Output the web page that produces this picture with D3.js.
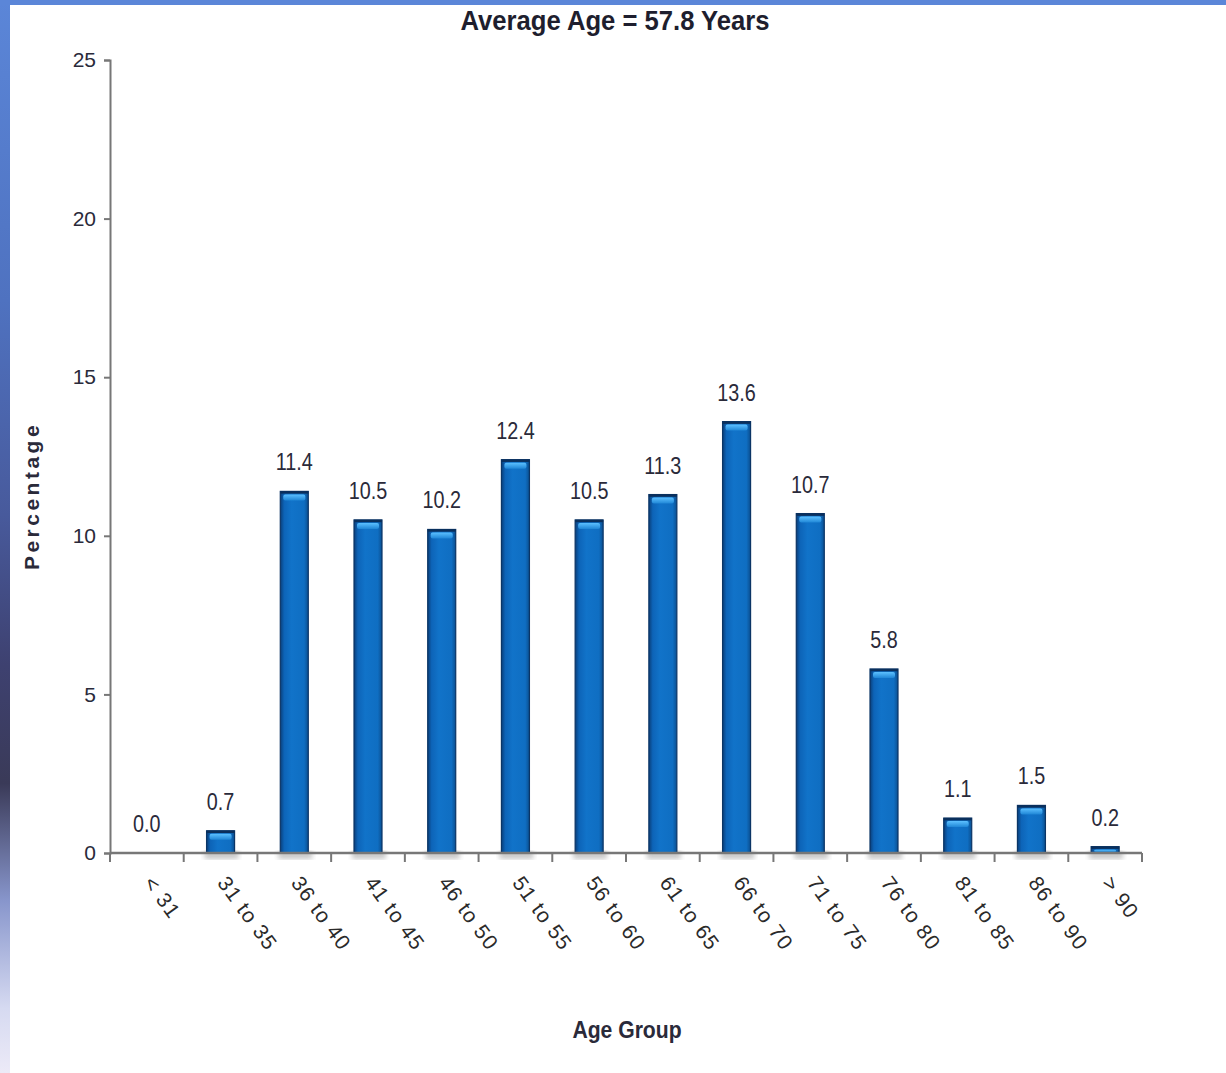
<!DOCTYPE html>
<html>
<head>
<meta charset="utf-8">
<script src="https://cdn.jsdelivr.net/npm/d3@7/dist/d3.min.js"></script>
<style>
  html, body { margin: 0; padding: 0; background: #fff; }
  svg { display: block; }
  text { font-family: "Liberation Sans Narrow", "Arial Narrow", "Liberation Sans", Arial, sans-serif; }
</style>
</head>
<body>
<svg id="chart" width="1226" height="1073"></svg>
<script>
// Age distribution of patients, percentage per age group
const ageGroups = ["< 31", "31 to 35", "36 to 40", "41 to 45", "46 to 50", "51 to 55", "56 to 60",
                   "61 to 65", "66 to 70", "71 to 75", "76 to 80", "81 to 85", "86 to 90", "> 90"];
const percentages = [0.0, 0.7, 11.4, 10.5, 10.2, 12.4, 10.5, 11.3, 13.6, 10.7, 5.8, 1.1, 1.5, 0.2];
const yTicks = [0, 5, 10, 15, 20, 25];
const titleText = "Average Age = 57.8 Years";
const xTitle = "Age Group";
const yTitle = "Percentage";

const svg = d3.select("#chart");
const W = 1226, H = 1073;
const margin = { left: 110, right: 84, top: 60, bottom: 220 };
const ink = "#2a2a3a";

const defs = svg.append("defs");

// frame gradient on the left edge
const edgeGrad = defs.append("linearGradient").attr("id", "edge")
  .attr("x1", 0).attr("y1", 0).attr("x2", 0).attr("y2", 1);
[["0%", "#5b86d8"], ["28%", "#4f72c0"], ["48%", "#485a9c"], ["62%", "#3e4170"], ["73%", "#3a3a58"],
 ["84%", "#8896cc"], ["94%", "#d6daf1"], ["100%", "#eceaf7"]].forEach(([o, c]) =>
  edgeGrad.append("stop").attr("offset", o).attr("stop-color", c));

// bar body shading
const barGrad = defs.append("linearGradient").attr("id", "barBody")
  .attr("x1", 0).attr("y1", 0).attr("x2", 1).attr("y2", 0);
[["0%", "#0a3f7a"], ["14%", "#0d64b8"], ["40%", "#1173c9"], ["85%", "#0f6ec2"], ["100%", "#0b4f90"]]
  .forEach(([o, c]) => barGrad.append("stop").attr("offset", o).attr("stop-color", c));

const capGrad = defs.append("linearGradient").attr("id", "barCap")
  .attr("x1", 0).attr("y1", 0).attr("x2", 0).attr("y2", 1);
[["0%", "#5cc0ff"], ["100%", "#1f86d6"]]
  .forEach(([o, c]) => capGrad.append("stop").attr("offset", o).attr("stop-color", c));

const soft = defs.append("filter").attr("id", "soft");
soft.append("feGaussianBlur").attr("stdDeviation", 2.5);

svg.append("rect").attr("x", 0).attr("y", 0).attr("width", W).attr("height", H).attr("fill", "#fff");
svg.append("rect").attr("x", 0).attr("y", 0).attr("width", 10).attr("height", H).attr("fill", "url(#edge)");
svg.append("rect").attr("x", 0).attr("y", 0).attr("width", W).attr("height", 5).attr("fill", "#5b86d8");

const x = d3.scaleBand().domain(ageGroups)
  .range([margin.left, W - margin.right]).paddingInner(0).paddingOuter(0);
const y = d3.scaleLinear().domain([0, 25]).range([H - margin.bottom, margin.top]);
const y0 = y(0);
const cx = g => x(g) + x.bandwidth() / 2;

const data = ageGroups.map((g, i) => ({ g, v: percentages[i] }));
const bw = 28;

// floor shadows under bars
svg.append("g").selectAll("rect").data(data.filter(d => d.v > 0)).join("rect")
  .attr("x", d => cx(d.g) - bw / 2 - 2)
  .attr("y", y0 - 2).attr("width", bw + 6).attr("height", 8)
  .attr("fill", "#9a9a9a").attr("opacity", 0.55).attr("filter", "url(#soft)");

// bars
const bars = svg.append("g").selectAll("g").data(data.filter(d => d.v > 0)).join("g");
bars.append("rect")
  .attr("x", d => cx(d.g) - bw / 2)
  .attr("y", d => y(d.v)).attr("width", bw)
  .attr("height", d => y0 - y(d.v))
  .attr("fill", "url(#barBody)").attr("stroke", "#0b3566").attr("stroke-width", 1.2);
bars.append("rect")
  .attr("x", d => cx(d.g) - bw / 2 + 3)
  .attr("y", d => y(d.v) + 3)
  .attr("width", bw - 6)
  .attr("height", d => Math.max(0, Math.min(6, y0 - y(d.v) - 4)))
  .attr("rx", 2)
  .attr("fill", "url(#barCap)");
bars.append("line")
  .attr("x1", d => cx(d.g) - bw / 2)
  .attr("x2", d => cx(d.g) + bw / 2)
  .attr("y1", d => y(d.v) + 1).attr("y2", d => y(d.v) + 1)
  .attr("stroke", "#0a2f5c").attr("stroke-width", 2.5);

// value labels (slightly condensed)
svg.append("g").selectAll("text").data(data).join("text")
  .attr("transform", d => `translate(${cx(d.g)},${y(d.v) - 21}) scale(0.9,1.08)`)
  .attr("text-anchor", "middle")
  .attr("font-size", 22).attr("fill", ink)
  .text(d => d.v.toFixed(1));

// y axis
const yAxis = svg.append("g").attr("transform", `translate(${margin.left},0)`)
  .call(d3.axisLeft(y).tickValues(yTicks).tickSize(6).tickPadding(8).tickFormat(d3.format("d")));
yAxis.select(".domain").attr("stroke", "#777").attr("stroke-width", 2);
yAxis.selectAll(".tick line").attr("stroke", "#777").attr("stroke-width", 2);
yAxis.selectAll(".tick text").attr("font-size", 21).attr("fill", ink)
  .attr("font-family", "\"Liberation Sans Narrow\", \"Arial Narrow\", \"Liberation Sans\", sans-serif");

// x axis with ticks at group boundaries
const xAxis = svg.append("g").attr("transform", `translate(0,${y0})`);
xAxis.append("line").attr("x1", margin.left).attr("x2", W - margin.right)
  .attr("y1", 0).attr("y2", 0).attr("stroke", "#777").attr("stroke-width", 2.5);
const boundaries = ageGroups.map(g => x(g)).concat([x(ageGroups[ageGroups.length - 1]) + x.bandwidth()]);
xAxis.selectAll("line.tk").data(boundaries).join("line").attr("class", "tk")
  .attr("x1", d => d).attr("x2", d => d).attr("y1", 0).attr("y2", 9)
  .attr("stroke", "#777").attr("stroke-width", 2);
xAxis.selectAll("text").data(ageGroups).join("text")
  .attr("transform", g => `translate(${cx(g) - 4},${30}) rotate(54)`)
  .attr("text-anchor", "start")
  .attr("font-size", 21).attr("letter-spacing", 1.2).attr("fill", "#2a2a2a")
  .text(g => g);

// titles
svg.append("text").attr("transform", "translate(615,30) scale(0.95,1.05)").attr("text-anchor", "middle")
  .attr("font-size", 27).attr("font-weight", "bold").attr("fill", "#1e1e2e")
  .text(titleText);
svg.append("text").attr("transform", "translate(627,1038) scale(0.92,1.05)").attr("text-anchor", "middle")
  .attr("font-size", 23).attr("font-weight", "bold").attr("fill", ink)
  .text(xTitle);
svg.append("text").attr("transform", "translate(39,496) rotate(-90)").attr("text-anchor", "middle")
  .attr("font-size", 21).attr("font-weight", "bold").attr("letter-spacing", 3.5).attr("fill", ink)
  .text(yTitle);
</script>
</body>
</html>
